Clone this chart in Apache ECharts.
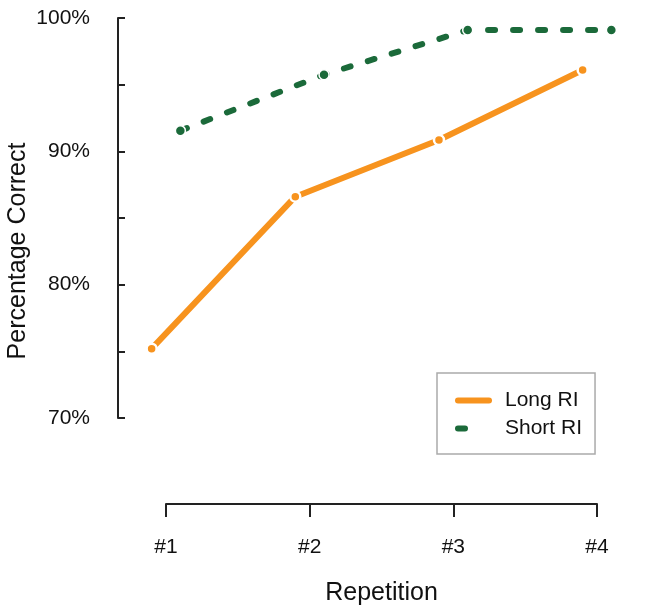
<!DOCTYPE html>
<html>
<head>
<meta charset="utf-8">
<script src="https://cdn.jsdelivr.net/npm/echarts@6/dist/echarts.min.js"></script>
<style>
html,body{margin:0;padding:0;background:#fff;}
#chart{width:649px;height:611px;}
</style>
</head>
<body>
<div id="chart"></div>
<script>
var categories = ['#1', '#2', '#3', '#4'];
var longRI = [75.2, 86.6, 90.85, 96.1];
var shortRI = [91.55, 95.75, 99.1, 99.1];
var yTicks = [70, 80, 90, 100];
var seriesNames = ['Long RI', 'Short RI'];
var dodge = 0.1;

var FONT = 'Liberation Sans, Arial, sans-serif';
var ORANGE = '#F7931E';
var GREEN = '#1B6A3A';

// axis frame (where #1..#4 sit)
var AX_L = 166, AX_R = 52, TOP = 18, BOT = 193;
var pad = 0.15; // extra room either side so dodged points are not clipped
var unit = (649 - AX_L - AX_R) / (categories.length - 1);

function toPoints(vals, off) {
  return vals.map(function (v, i) { return [i + 1 + off, v]; });
}

var chart = echarts.init(document.getElementById('chart'), null, {renderer: 'canvas'});
chart.setOption({
  animation: false,
  backgroundColor: '#fff',
  grid: [
    {left: AX_L - pad * unit, right: AX_R - pad * unit, top: TOP, bottom: BOT, containLabel: false},
    {left: AX_L, right: AX_R, top: TOP, bottom: BOT, containLabel: false}
  ],
  xAxis: [{
    gridIndex: 0, type: 'value', min: 1 - pad, max: categories.length + pad,
    show: false
  }, {
    gridIndex: 1, type: 'value', min: 1, max: categories.length, interval: 1,
    offset: 86,
    splitLine: {show: false},
    axisLine: {show: true, onZero: false, lineStyle: {color: '#222', width: 2}},
    axisTick: {show: true, length: 13, lineStyle: {color: '#222', width: 2}},
    axisLabel: {margin: 33, color: '#111', fontSize: 21, fontFamily: FONT,
      formatter: function (v) { return categories[Math.round(v) - 1] || ''; }},
    name: 'Repetition', nameLocation: 'middle', nameGap: 77,
    nameTextStyle: {color: '#111', fontSize: 25, fontFamily: FONT}
  }],
  yAxis: [{
    gridIndex: 0, type: 'value', min: 70, max: 100, interval: 5,
    offset: AX_L - pad * unit - 118,
    splitLine: {show: false},
    axisLine: {show: true, lineStyle: {color: '#222', width: 2}},
    axisTick: {show: true, inside: true, length: 7, lineStyle: {color: '#222', width: 2}},
    axisLabel: {margin: 28, color: '#111', fontSize: 21, fontFamily: FONT,
      verticalAlignMinLabel: 'middle', verticalAlignMaxLabel: 'middle',
      padding: [5, 0, 0, 0],
      formatter: function (v) { return yTicks.indexOf(v) >= 0 ? v + '%' : ''; }}
  }, {
    gridIndex: 1, type: 'value', min: 70, max: 100, show: false
  }],
  graphic: [{
    type: 'text', x: 18, y: 251, rotation: Math.PI / 2,
    style: {text: 'Percentage Correct', fill: '#111', font: '25px ' + FONT,
      textAlign: 'center', textVerticalAlign: 'middle'}
  }],
  legend: {
    orient: 'vertical', left: 437, top: 373,
    padding: [17, 13, 15, 18],
    itemGap: 7, itemWidth: 31, itemHeight: 6,
    borderColor: '#aaa', borderWidth: 1.5, borderRadius: 0,
    itemStyle: {opacity: 0},
    lineStyle: {width: 6, cap: 'round'},
    textStyle: {color: '#111', fontSize: 21, fontFamily: FONT, padding: [0, 0, 0, 11]},
    data: [
      {name: seriesNames[0]},
      {name: seriesNames[1], lineStyle: {width: 6, type: [7, 60], cap: 'round'}}
    ]
  },
  series: [{
    name: seriesNames[0], type: 'line', clip: false,
    xAxisIndex: 0, yAxisIndex: 0,
    data: toPoints(longRI, -dodge),
    symbol: 'circle', symbolSize: 10,
    itemStyle: {color: ORANGE, borderColor: '#fff', borderWidth: 2.5},
    lineStyle: {color: ORANGE, width: 6, cap: 'round'}
  }, {
    name: seriesNames[1], type: 'line', clip: false,
    xAxisIndex: 0, yAxisIndex: 0,
    data: toPoints(shortRI, dodge),
    symbol: 'circle', symbolSize: 10,
    itemStyle: {color: GREEN, borderColor: '#fff', borderWidth: 1.5},
    lineStyle: {color: GREEN, width: 6, type: [7, 18], cap: 'round'}
  }]
});
</script>
</body>
</html>
